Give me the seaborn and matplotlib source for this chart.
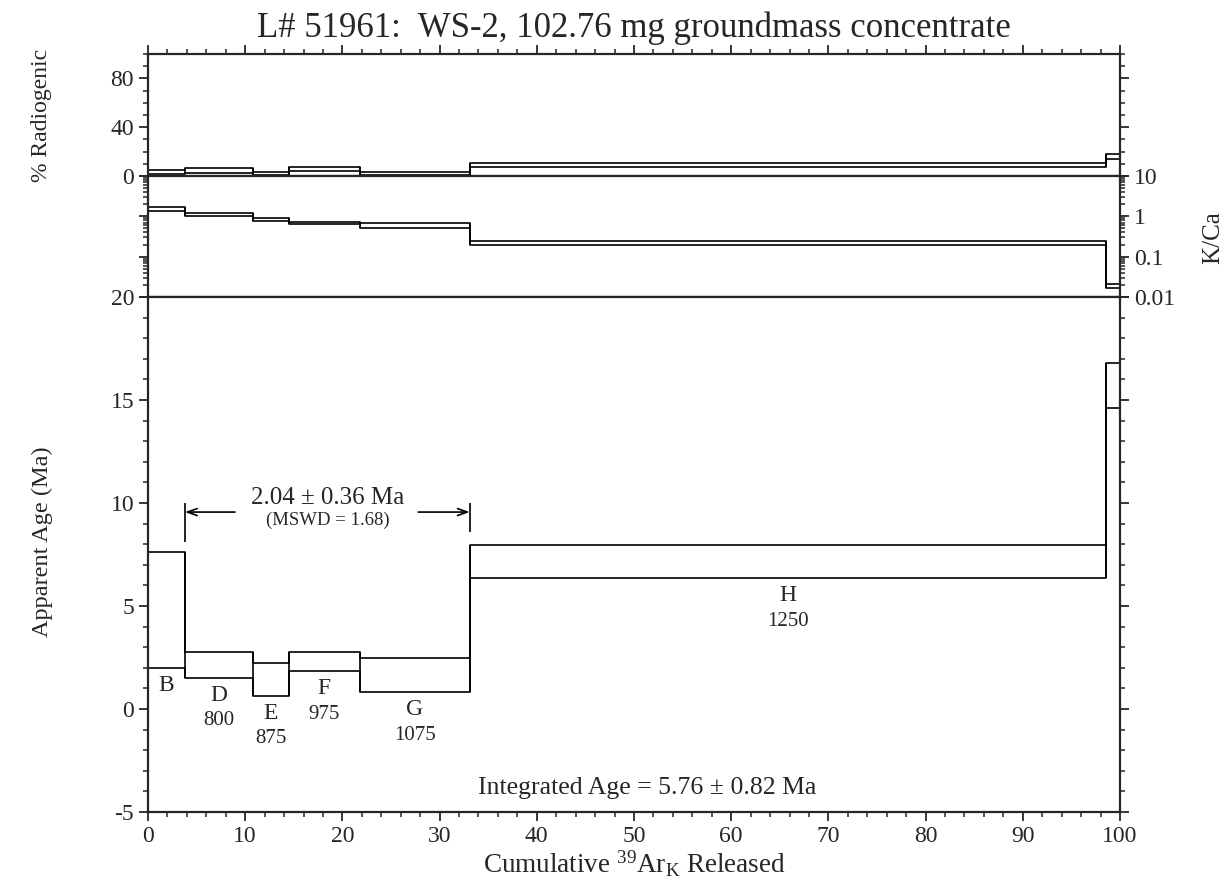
import pandas as pd
import seaborn as sns
import matplotlib.pyplot as plt
from matplotlib.ticker import MultipleLocator, LogLocator, NullFormatter


# Step-heating data
cum_ar = [0, 3.8, 10.8, 14.5, 21.8, 33.1, 98.6, 100]   # step boundaries, % 39Ar released
step_ids = ['B', 'D', 'E', 'F', 'G', 'H', '']
temps = ['', '800', '875', '975', '1075', '1250', '']
age_hi = [7.63, 2.75, 2.25, 2.75, 2.49, 7.98, 16.8]
age_lo = [2.00, 1.52, 0.65, 1.84, 0.83, 6.37, 14.6]
rad_hi = [4.6, 6.3, 3.0, 7.7, 3.5, 10.9, 17.8]
rad_lo = [1.8, 2.2, 0.8, 4.4, 0.8, 7.6, 13.9]
kca_hi = [1.74, 1.19, 0.90, 0.74, 0.675, 0.25, 0.0207]
kca_lo = [1.39, 1.04, 0.77, 0.645, 0.525, 0.195, 0.017]
kca_start = 0.066

plateau_age = '2.04 \u00b1 0.36 Ma'
plateau_mswd = '(MSWD = 1.68)'
integrated_age = 'Integrated Age = 5.76 \u00b1 0.82 Ma'
title = 'L# 51961:  WS-2, 102.76 mg groundmass concentrate'

sns.set_style('ticks')
plt.rcParams['font.family'] = ['Liberation Serif', 'DejaVu Serif']
plt.rcParams['mathtext.fontset'] = 'custom'
plt.rcParams['mathtext.rm'] = 'Liberation Serif'
plt.rcParams['mathtext.it'] = 'Liberation Serif:italic'
plt.rcParams['mathtext.default'] = 'rm'
plt.rcParams['axes.unicode_minus'] = False

fig = plt.figure(figsize=(12.29, 8.84), dpi=100)
L, W = 148 / 1229, 972 / 1229
ax_rad = fig.add_axes([L, 1 - 176 / 884, W, 122 / 884])
ax_kca = fig.add_axes([L, 1 - 297 / 884, W, 121 / 884])
ax_age = fig.add_axes([L, 1 - 812 / 884, W, 515 / 884])


def draw_band(ax, hi, lo):
    # upper and lower step lines
    for vals in (hi, lo):
        df = pd.DataFrame({'x': cum_ar, 'y': list(vals) + [vals[-1]]})
        sns.lineplot(data=df, x='x', y='y', drawstyle='steps-post', estimator=None,
                     sort=False, color='black', lw=1.2, ax=ax)
    # step edges span both neighbouring boxes
    ymin, ymax = [lo[0]], [hi[0]]
    for i in range(1, len(hi)):
        ymin.append(min(lo[i - 1], lo[i]))
        ymax.append(max(hi[i - 1], hi[i]))
    ymin.append(lo[-1])
    ymax.append(hi[-1])
    ax.vlines(cum_ar, ymin, ymax, colors='black', lw=1.2)


ax_kca.set_yscale('log')
draw_band(ax_rad, rad_hi, rad_lo)
draw_band(ax_kca, kca_hi, kca_lo)
ax_kca.vlines(0, kca_start, kca_hi[0], colors='black', lw=1.2)
draw_band(ax_age, age_hi, age_lo)

for ax in (ax_rad, ax_kca, ax_age):
    ax.set_xlim(0, 100)
    ax.set_xlabel('')
    ax.set_ylabel('')
    for sp in ax.spines.values():
        sp.set_visible(True)
        sp.set_linewidth(1.6)
    ax.xaxis.set_major_locator(MultipleLocator(10))
    ax.xaxis.set_minor_locator(MultipleLocator(2))
    ax.tick_params(which='major', length=6.5, width=1.3, labelsize=17, direction='out')
    ax.tick_params(which='minor', length=3.5, width=1.1, direction='out')
    ax.tick_params(axis='y', which='both', left=True, right=True)

# % radiogenic panel
ax_rad.set_ylim(0, 100)
ax_rad.yaxis.set_major_locator(MultipleLocator(40))
ax_rad.yaxis.set_minor_locator(MultipleLocator(10))
ax_rad.tick_params(axis='x', which='both', top=True, bottom=True, labelbottom=False)

# K/Ca panel
ax_kca.set_ylim(0.01, 10)
ax_kca.set_yticks([0.01, 0.1, 1, 10], labels=['0.01', '0.1', '1', '10'])
ax_kca.yaxis.set_minor_locator(LogLocator(base=10, subs=range(2, 10)))
ax_kca.yaxis.set_minor_formatter(NullFormatter())
ax_kca.tick_params(axis='y', which='both', labelleft=False, labelright=True)
ax_kca.tick_params(axis='x', which='both', top=False, bottom=True, labelbottom=False)

# age spectrum panel
ax_age.set_ylim(-5, 20)
ax_age.yaxis.set_major_locator(MultipleLocator(5))
ax_age.yaxis.set_minor_locator(MultipleLocator(1))
ax_age.tick_params(axis='x', which='both', top=False, bottom=True)

for i, (sid, t) in enumerate(zip(step_ids, temps)):
    mid = (cum_ar[i] + cum_ar[i + 1]) / 2
    if sid:
        ax_age.text(mid, age_lo[i] - 0.85, sid, ha='center', va='center', fontsize=17)
    if t:
        ax_age.text(mid, age_lo[i] - 2.1, t, ha='center', va='center', fontsize=15)

# plateau bracket
p0, p1 = cum_ar[1], cum_ar[5]
ax_age.vlines([p0, p1], [age_hi[0] + 0.5, age_hi[5] + 0.6], [10.0, 10.0], colors='black', lw=1.2)
arrow = dict(arrowstyle='->,head_length=0.7,head_width=0.25', lw=1.2, color='black',
             shrinkA=0, shrinkB=0)
ax_age.annotate('', xy=(p0, 9.56), xytext=(8.95, 9.56), arrowprops=arrow)
ax_age.annotate('', xy=(p1, 9.56), xytext=(27.8, 9.56), arrowprops=arrow)
ax_age.text((p0 + p1) / 2, 10.26, plateau_age, ha='center', va='center', fontsize=18)
ax_age.text((p0 + p1) / 2, 9.17, plateau_mswd, ha='center', va='center', fontsize=13.5)
ax_age.text(51.4, -3.83, integrated_age, ha='center', va='center', fontsize=18.5)

ax_age.set_xlabel('Cumulative $^{39}$Ar$_{\\rm K}$ Released', fontsize=19.5, labelpad=1)

fig.text(634 / 1229, 1 - 28 / 884, title, ha='center', va='center', fontsize=25)
fig.text(42 / 1229, 1 - 115 / 884, '% Radiogenic', rotation=90, ha='center', va='center', fontsize=17)
fig.text(42 / 1229, 1 - 542 / 884, 'Apparent Age (Ma)', rotation=90, ha='center', va='center', fontsize=17.5)
fig.text(1213 / 1229, 1 - 238 / 884, 'K/Ca', rotation=90, ha='center', va='center', fontsize=18)

fig.savefig('out.png', dpi=100)
